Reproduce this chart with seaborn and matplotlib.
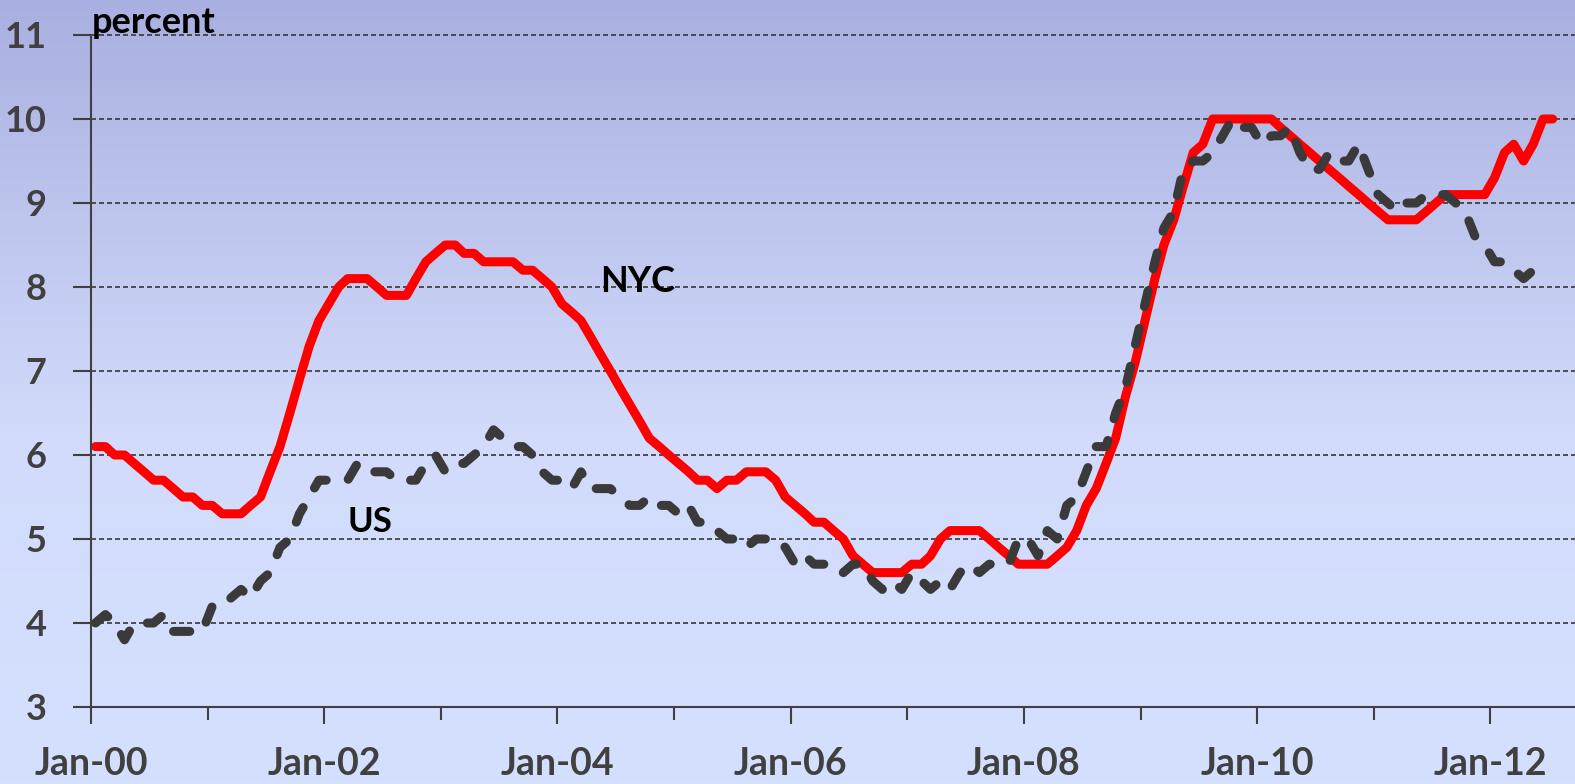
# NYC vs US unemployment rate, monthly 2000-2012
import matplotlib
matplotlib.use("Agg")
import matplotlib.dates as mdates
import matplotlib.pyplot as plt
import numpy as np
import pandas as pd
import seaborn as sns
from matplotlib.colors import LinearSegmentedColormap

# %% DATA (percent, monthly from Jan 2000)
nyc_rate = [
    6.1, 6.1, 6.0, 6.0, 5.9, 5.8, 5.7, 5.7, 5.6, 5.5, 5.5, 5.4,  # 2000
    5.4, 5.3, 5.3, 5.3, 5.4, 5.5, 5.8, 6.1, 6.5, 6.9, 7.3, 7.6,  # 2001
    7.8, 8.0, 8.1, 8.1, 8.1, 8.0, 7.9, 7.9, 7.9, 8.1, 8.3, 8.4,  # 2002
    8.5, 8.5, 8.4, 8.4, 8.3, 8.3, 8.3, 8.3, 8.2, 8.2, 8.1, 8.0,  # 2003
    7.8, 7.7, 7.6, 7.4, 7.2, 7.0, 6.8, 6.6, 6.4, 6.2, 6.1, 6.0,  # 2004
    5.9, 5.8, 5.7, 5.7, 5.6, 5.7, 5.7, 5.8, 5.8, 5.8, 5.7, 5.5,  # 2005
    5.4, 5.3, 5.2, 5.2, 5.1, 5.0, 4.8, 4.7, 4.6, 4.6, 4.6, 4.6,  # 2006
    4.7, 4.7, 4.8, 5.0, 5.1, 5.1, 5.1, 5.1, 5.0, 4.9, 4.8, 4.7,  # 2007
    4.7, 4.7, 4.7, 4.8, 4.9, 5.1, 5.4, 5.6, 5.9, 6.2, 6.7, 7.1,  # 2008
    7.6, 8.1, 8.5, 8.8, 9.2, 9.6, 9.7, 10.0, 10.0, 10.0, 10.0, 10.0,  # 2009
    10.0, 10.0, 9.9, 9.8, 9.7, 9.6, 9.5, 9.4, 9.3, 9.2, 9.1, 9.0,  # 2010
    8.9, 8.8, 8.8, 8.8, 8.8, 8.9, 9.0, 9.1, 9.1, 9.1, 9.1, 9.1,  # 2011
    9.3, 9.6, 9.7, 9.5, 9.7, 10.0, 10.0,  # 2012
]
us_rate = [
    4.0, 4.1, 4.0, 3.8, 4.0, 4.0, 4.0, 4.1, 3.9, 3.9, 3.9, 3.9,  # 2000
    4.2, 4.2, 4.3, 4.4, 4.3, 4.5, 4.6, 4.9, 5.0, 5.3, 5.5, 5.7,  # 2001
    5.7, 5.7, 5.7, 5.9, 5.8, 5.8, 5.8, 5.7, 5.7, 5.7, 5.9, 6.0,  # 2002
    5.8, 5.9, 5.9, 6.0, 6.1, 6.3, 6.2, 6.1, 6.1, 6.0, 5.8, 5.7,  # 2003
    5.7, 5.6, 5.8, 5.6, 5.6, 5.6, 5.5, 5.4, 5.4, 5.5, 5.4, 5.4,  # 2004
    5.3, 5.4, 5.2, 5.2, 5.1, 5.0, 5.0, 4.9, 5.0, 5.0, 5.0, 4.9,  # 2005
    4.7, 4.8, 4.7, 4.7, 4.6, 4.6, 4.7, 4.7, 4.5, 4.4, 4.5, 4.4,  # 2006
    4.6, 4.5, 4.4, 4.5, 4.4, 4.6, 4.7, 4.6, 4.7, 4.7, 4.7, 5.0,  # 2007
    5.0, 4.8, 5.1, 5.0, 5.4, 5.5, 5.8, 6.1, 6.1, 6.5, 6.8, 7.3,  # 2008
    7.8, 8.3, 8.7, 8.9, 9.4, 9.5, 9.5, 9.6, 9.8, 10.0, 9.9, 9.9,  # 2009
    9.7, 9.8, 9.8, 9.9, 9.6, 9.4, 9.4, 9.6, 9.5, 9.5, 9.7, 9.4,  # 2010
    9.1, 9.0, 8.9, 9.0, 9.0, 9.1, 9.1, 9.1, 9.0, 8.9, 8.6, 8.5,  # 2011
    8.3, 8.3, 8.2, 8.1, 8.2,  # 2012
]
start_month = "2000-01-01"
y_ticks = list(range(3, 12))

# points sit in the middle of each month
nyc_dates = pd.date_range(start_month, periods=len(nyc_rate), freq="MS") + pd.Timedelta(days=14)
us_dates = pd.date_range(start_month, periods=len(us_rate), freq="MS") + pd.Timedelta(days=14)

# %% STYLE
sns.set_theme(style="white")
plt.rcParams["font.family"] = ["Lato", "DejaVu Sans"]
plt.rcParams["font.weight"] = "bold"

W, H = 1575, 784
fig = plt.figure(figsize=(W / 100, H / 100), dpi=100)

# gradient background over the whole picture
bg = fig.add_axes([0, 0, 1, 1], zorder=-10)
bg_cmap = LinearSegmentedColormap.from_list(
    "bg", [(0.0, "#a9afe0"), (0.55, "#d2dbfb"), (1.0, "#d5e0ff")]
)
bg.imshow(np.linspace(0, 1, 256).reshape(-1, 1), aspect="auto", cmap=bg_cmap,
          extent=[0, 1, 0, 1])
bg.axis("off")

ax = fig.add_axes([91 / W, 1 - 707 / H, 1 - 91 / W, (707 - 35) / H])
ax.set_facecolor("none")

# %% LINES
sns.lineplot(x=nyc_dates, y=nyc_rate, color="#ff0000", linewidth=6.5, ax=ax,
             solid_capstyle="round", solid_joinstyle="round")
sns.lineplot(x=us_dates, y=us_rate, color="#3a3a3a", linewidth=6.5, ax=ax)
us_line = ax.lines[-1]
us_line.set_dashes((1.8, 2.5))
us_line.set_dash_capstyle("round")
us_line.set_dash_joinstyle("round")

# %% AXES
ax.set_ylim(3, 11)
ax.set_yticks(y_ticks)
ax.set_xlim(mdates.date2num(pd.Timestamp("2000-01-01")),
            mdates.date2num(pd.Timestamp("2012-09-23")))
ax.xaxis.set_major_locator(mdates.YearLocator(2))
ax.xaxis.set_minor_locator(mdates.YearLocator(1))
ax.xaxis.set_major_formatter(mdates.DateFormatter("%b-%y"))
ax.set_xlabel("")
ax.set_ylabel("")

ax.yaxis.grid(True, linestyle=(0, (3, 1.8)), color="#383838", linewidth=1.2)
ax.xaxis.grid(False)
ax.set_axisbelow(True)
# keep the top gridline (11) at full width instead of half clipped
for gl in ax.get_ygridlines():
    gl.set_clip_on(False)

for side in ["top", "right"]:
    ax.spines[side].set_visible(False)
for side in ["left", "bottom"]:
    ax.spines[side].set_color("#404040")
    ax.spines[side].set_linewidth(1.5)

ax.tick_params(axis="x", which="both", bottom=True, direction="out",
               color="#404040", width=1.5, labelcolor="#404040")
ax.tick_params(axis="x", which="major", length=12, pad=17, labelsize=27)
ax.tick_params(axis="x", which="minor", length=9)
ax.tick_params(axis="y", left=True, direction="out", length=13, width=1.5,
               color="#404040", pad=19, labelsize=26, labelcolor="#404040")

# %% LABELS
ax.text(mdates.date2num(pd.Timestamp("2004-09-07")), 8.06, "NYC", ha="center",
        va="center", fontsize=26, fontweight="bold", color="black")
ax.text(mdates.date2num(pd.Timestamp("2002-05-24")), 5.2, "US", ha="center",
        va="center", fontsize=25, fontweight="bold", color="black")
fig.text(92 / W, 1 - 33 / H, "percent", ha="left", va="baseline",
         fontsize=26, fontweight="bold", color="black")

fig.savefig("out.png", dpi=100)
